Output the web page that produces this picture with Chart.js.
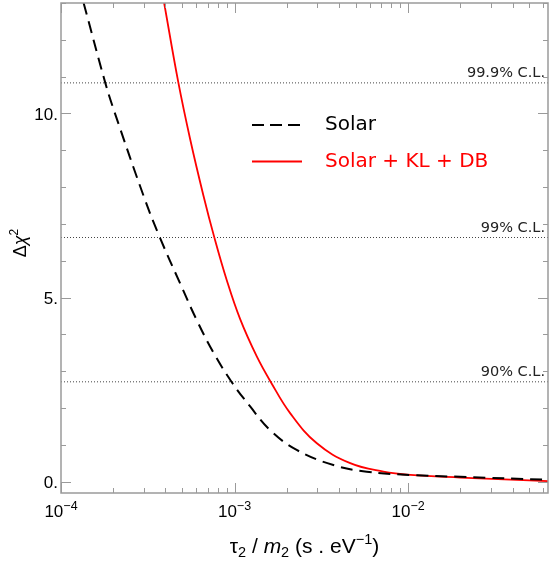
<!DOCTYPE html>
<html>
<head>
<meta charset="utf-8">
<script src="https://cdn.jsdelivr.net/npm/chart.js@4"></script>
<style>
  html, body { margin: 0; padding: 0; background: #fff; }
  canvas { display: block; }
</style>
</head>
<body>
<canvas id="chart" width="550" height="562"></canvas>
<script>
// tau2/m2 (s/eV) and delta chi^2
const solarTau = [1.26e-4, 1.35e-4, 1.80e-4, 2.03e-4, 3.05e-4, 3.72e-4, 4.85e-4, 6.05e-4, 7.55e-4, 9.64e-4, 1.23e-3, 1.60e-3, 2.28e-3, 3.71e-3, 5.78e-3, 1.03e-2, 2.0e-2, 6.4e-2];
const solarChi2 = [13.5, 13.0, 10.83, 10.05, 7.65, 6.62, 5.39, 4.39, 3.51, 2.70, 2.04, 1.40, 0.86, 0.45, 0.27, 0.18, 0.13, 0.05];

const combTau = [3.70e-4, 3.93e-4, 4.74e-4, 5.55e-4, 6.61e-4, 7.66e-4, 9.02e-4, 1.076e-3, 1.343e-3, 1.62e-3, 2.09e-3, 2.98e-3, 4.64e-3, 7.21e-3, 1.03e-2, 2.0e-2, 6.4e-2];
const combChi2 = [13.7, 13.0, 10.85, 9.30, 7.78, 6.62, 5.47, 4.42, 3.40, 2.70, 1.86, 1.04, 0.50, 0.27, 0.18, 0.11, 0.01];

const clLevels = [2.71, 6.63, 10.83];
const clLabels = ["90% C.L.", "99% C.L.", "99.9% C.L."];

const xMin = 1e-4, xMax = 0.064;
const yMin = -0.31, yMax = 13.0;
const xMajor = [1e-4, 1e-3, 1e-2];
const xMajorExp = ["\u22124", "\u22123", "\u22122"];
const yMajor = [0, 5, 10];
const yMajorLabels = ["0.", "5.", "10."];

const legendItems = [
  { label: "Solar", color: "#000", dash: [12, 6] },
  { label: "Solar + KL + DB", color: "#ff0000", dash: [] },
];

const toPts = (xs, ys) => xs.map((x, i) => ({ x: x, y: ys[i] }));

const datasets = clLevels.map(v => ({
  data: [{ x: xMin, y: v }, { x: xMax, y: v }],
  borderColor: "#444",
  borderWidth: 1,
  borderDash: [1, 2],
  order: 3,
}));
datasets.push({
  label: "Solar",
  data: toPts(solarTau, solarChi2),
  borderColor: "#000",
  borderWidth: 2,
  borderDash: [12, 7],
  tension: 0.4,
  order: 1,
});
datasets.push({
  label: "Solar + KL + DB",
  data: toPts(combTau, combChi2),
  borderColor: "#ff0000",
  borderWidth: 1.8,
  tension: 0.4,
  order: 2,
});

const GRAY = "#9a9a9a";
const SANS = "'Liberation Sans', Arial, sans-serif";
const DEJAVU = "'DejaVu Sans', sans-serif";

// draw a run of text pieces with their own size / offset / style
function drawRich(ctx, parts, x, y, align) {
  let total = 0;
  parts.forEach(p => {
    ctx.font = (p.style || "") + " " + p.size + "px " + (p.family || SANS);
    p.w = ctx.measureText(p.t).width;
    total += p.w;
  });
  let cx = align === "center" ? x - total / 2 : x;
  ctx.textAlign = "left";
  ctx.textBaseline = "alphabetic";
  parts.forEach(p => {
    ctx.font = (p.style || "") + " " + p.size + "px " + (p.family || SANS);
    ctx.fillText(p.t, cx, y + (p.dy || 0));
    cx += p.w;
  });
}

const decorations = {
  id: "decorations",
  afterDatasetsDraw(chart) {
    const ctx = chart.ctx;
    const a = chart.chartArea;
    const xs = chart.scales.x, ys = chart.scales.y;
    ctx.save();

    // frame
    ctx.strokeStyle = GRAY;
    ctx.lineWidth = 1.5;
    ctx.strokeRect(a.left, a.top, a.right - a.left, a.bottom - a.top);

    // inward ticks on all four sides
    ctx.lineWidth = 1;
    ctx.beginPath();
    for (let e = -4; e <= -2; e++) {
      for (let k = 1; k <= 9; k++) {
        const v = k * Math.pow(10, e);
        if (v < xMin || v > xMax) continue;
        const px = Math.round(xs.getPixelForValue(v)) + 0.5;
        const len = k === 1 ? 10 : 5;
        ctx.moveTo(px, a.bottom); ctx.lineTo(px, a.bottom - len);
        ctx.moveTo(px, a.top); ctx.lineTo(px, a.top + len);
      }
    }
    for (let v = 0; v <= 13; v++) {
      const py = Math.round(ys.getPixelForValue(v)) + 0.5;
      const len = v % 5 === 0 ? 10 : 5;
      ctx.moveTo(a.left, py); ctx.lineTo(a.left + len, py);
      ctx.moveTo(a.right, py); ctx.lineTo(a.right - len, py);
    }
    ctx.stroke();

    // tick labels
    ctx.fillStyle = "#000";
    xMajor.forEach((v, i) => {
      const px = xs.getPixelForValue(v);
      drawRich(ctx, [
        { t: "10", size: 17 },
        { t: xMajorExp[i], size: 12.5, dy: -7 },
      ], px, a.bottom + 24, "center");
    });
    ctx.font = "17px " + SANS;
    ctx.textAlign = "right";
    ctx.textBaseline = "alphabetic";
    yMajor.forEach((v, i) => {
      ctx.fillText(yMajorLabels[i], a.left - 3, ys.getPixelForValue(v) + 6.5);
    });

    // axis titles
    drawRich(ctx, [
      { t: "\u03c4", size: 21 },
      { t: "2", size: 14.5, dy: 4 },
      { t: " / ", size: 21 },
      { t: "m", size: 21, style: "italic" },
      { t: "2", size: 14.5, dy: 4 },
      { t: " (s . eV", size: 21 },
      { t: "\u22121", size: 14.5, dy: -9 },
      { t: ")", size: 21 },
    ], (a.left + a.right) / 2, 553, "center");

    ctx.save();
    ctx.translate(26, 243);
    ctx.rotate(-Math.PI / 2);
    drawRich(ctx, [
      { t: "\u0394", size: 18 },
      { t: "\u03c7", size: 18, style: "italic" },
      { t: "2", size: 12, dy: -8 },
    ], 0, 0, "center");
    ctx.restore();

    // confidence level labels
    ctx.font = "14.5px " + DEJAVU;
    ctx.fillStyle = "#222";
    ctx.textAlign = "right";
    clLevels.forEach((v, i) => {
      ctx.fillText(clLabels[i], a.right - 3, ys.getPixelForValue(v) - 6);
    });

    // legend inside the plot
    legendItems.forEach((it, i) => {
      const ly = 125 + i * 36.5;
      ctx.strokeStyle = it.color;
      ctx.lineWidth = it.dash.length ? 2 : 1.8;
      ctx.setLineDash(it.dash);
      ctx.beginPath();
      ctx.moveTo(252, ly); ctx.lineTo(302, ly);
      ctx.stroke();
      ctx.setLineDash([]);
      ctx.fillStyle = it.color;
      ctx.font = "20px " + DEJAVU;
      ctx.textAlign = "left";
      ctx.textBaseline = "middle";
      ctx.fillText(it.label, 325, ly);
    });

    ctx.restore();
  },
};

new Chart(document.getElementById("chart"), {
  type: "line",
  data: { datasets: datasets },
  options: {
    responsive: false,
    animation: false,
    devicePixelRatio: 1,
    layout: { padding: { left: 61, right: 2, top: 3, bottom: 69 } },
    elements: { point: { radius: 0 } },
    scales: {
      x: { type: "logarithmic", min: xMin, max: xMax, display: false },
      y: { type: "linear", min: yMin, max: yMax, display: false },
    },
    plugins: { legend: { display: false }, tooltip: { enabled: false } },
  },
  plugins: [decorations],
});
</script>
</body>
</html>
